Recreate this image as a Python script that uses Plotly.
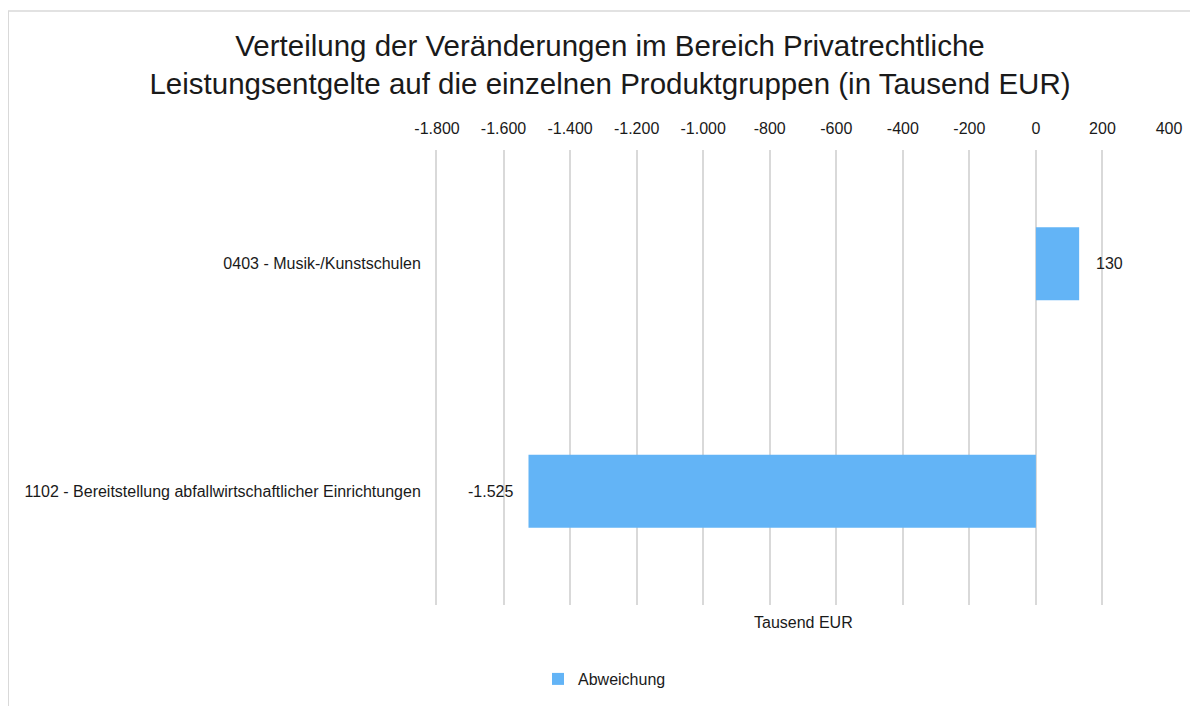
import plotly.graph_objects as go

# data
produktgruppen = ['1102 - Bereitstellung abfallwirtschaftlicher Einrichtungen',
                  '0403 - Musik-/Kunstschulen']
abweichung = [-1525, 130]
beschriftung = ['-1.525', '130']

tick_vals = [-1800, -1600, -1400, -1200, -1000, -800, -600, -400, -200, 0, 200, 400]
tick_text = ['-1.800', '-1.600', '-1.400', '-1.200', '-1.000', '-800', '-600',
             '-400', '-200', '0', '200', '400']

FONT = 'Liberation Sans, Arial, sans-serif'
BLAU = '#63b4f6'
GRAU = '#d9d9d9'
TEXT = '#1a1a1a'

# Plotfläche in Pixeln (die Seite hat 8px Rand)
L, R, T, B = 429, 1161, 142, 597
PW, PH = R - L, B - T

fig = go.Figure()
fig.add_trace(go.Bar(
    y=produktgruppen, x=abweichung, orientation='h',
    name='Abweichung', marker=dict(color=BLAU, line=dict(width=0)),
    width=0.32, hoverinfo='x+y'
))

# Datenbeschriftungen neben den Balken
for kat, wert, txt in zip(produktgruppen, abweichung, beschriftung):
    fig.add_annotation(
        x=wert, y=kat, text=txt, showarrow=False,
        xanchor='left' if wert >= 0 else 'right',
        xshift=15 if wert >= 0 else -14,
        font=dict(size=16, color=TEXT, family=FONT)
    )

fig.add_annotation(
    x=0.5, y=(B - 614) / PH, xref='paper', yref='paper', text='Tausend EUR',
    showarrow=False, xanchor='center', yanchor='middle',
    font=dict(size=16, color=TEXT, family=FONT)
)

# Rahmen (oben und links)
fig.add_shape(type='line', xref='paper', yref='paper',
              x0=(0 - L) / PW, x1=(1200 - L) / PW,
              y0=(B - 3) / PH, y1=(B - 3) / PH,
              line=dict(color=GRAU, width=1.5))
fig.add_shape(type='line', xref='paper', yref='paper',
              x0=(0 - L) / PW, x1=(0 - L) / PW,
              y0=(B - 3) / PH, y1=(B - 710) / PH,
              line=dict(color=GRAU, width=2))

fig.update_layout(
    width=1198, height=706,
    margin=dict(l=L, r=1198 - R, t=T, b=706 - B),
    paper_bgcolor='white', plot_bgcolor='white',
    font=dict(family=FONT, color=TEXT, size=16),
    title=dict(
        text='Verteilung der Veränderungen im Bereich Privatrechtliche<br>'
             'Leistungsentgelte auf die einzelnen Produktgruppen (in Tausend EUR)',
        x=602 / 1198, xanchor='center', xref='container',
        y=1 - 48 / 706, yanchor='top', yref='container',
        font=dict(size=29.5, color=TEXT, family=FONT)
    ),
    showlegend=True,
    legend=dict(
        orientation='h', x=(530 - L) / PW, xanchor='left',
        y=(B - 654) / PH, yanchor='top',
        font=dict(size=16, family=FONT), itemwidth=30
    ),
    xaxis=dict(
        side='top', range=[-1800, 400], tickvals=tick_vals, ticktext=tick_text,
        showgrid=True, gridcolor=GRAU, gridwidth=2, zeroline=False,
        showline=False, ticks='', ticklabelstandoff=12, tickfont=dict(size=16)
    ),
    yaxis=dict(
        showgrid=False, zeroline=False, showline=True, linecolor=GRAU, linewidth=2,
        ticks='outside', ticklen=11, tickcolor='white',
        tickfont=dict(size=16)
    ),
)

fig.write_html("out.html")
